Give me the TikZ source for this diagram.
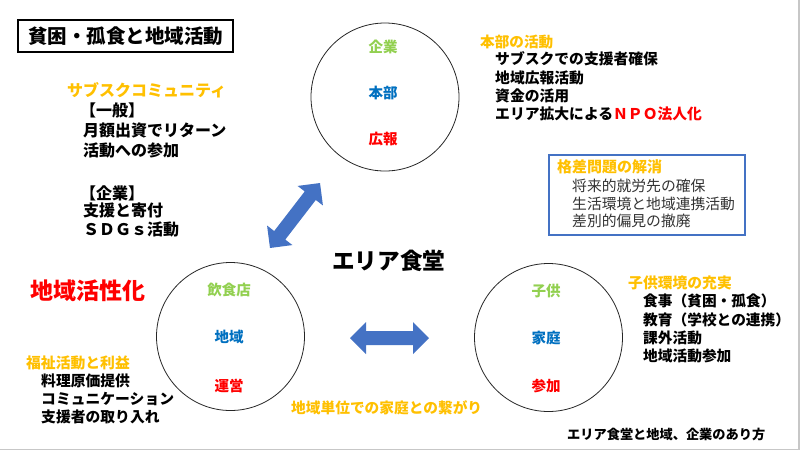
\documentclass[tikz,border=0pt]{standalone}
\usepackage{fontspec}
\newfontfamily\jp{Noto Sans CJK JP}
\definecolor{jorange}{HTML}{FFC000}
\definecolor{jgreen}{HTML}{92D050}
\definecolor{jblue}{HTML}{0070C0}
\definecolor{jred}{HTML}{FF0000}
\definecolor{arrowblue}{HTML}{4472C4}
\definecolor{boxtext}{HTML}{333333}
\newcommand{\fsz}[1]{\fontsize{#1}{#1}\selectfont}
\tikzset{
  t/.style={inner sep=0pt, anchor=base west},
  tc/.style={inner sep=0pt, anchor=base},
  bk/.style={font=\jp\bfseries\fsz{#1}, text=black},
  rg/.style={font=\jp\fsz{#1}, text=boxtext},
  hd/.style={font=\jp\bfseries\fsz{#1}, text=jorange},
  circ/.style={draw=black!85, line width=0.8pt, circle, minimum size=148pt, inner sep=0pt},
  lab/.style={font=\jp\bfseries\fsz{14.5}},
}
\newcommand{\blockarrow}[4]{% mid, angle, length
  \begin{scope}[shift={#1}, rotate=#2]
    \fill[arrowblue] (-#3/2,0) -- (-#3/2+16,16) -- (-#3/2+16,7) -- (#3/2-16,7) -- (#3/2-16,16) -- (#3/2,0)
      -- (#3/2-16,-16) -- (#3/2-16,-7) -- (-#3/2+16,-7) -- (-#3/2+16,-16) -- cycle;
  \end{scope}}
\begin{document}
\begin{tikzpicture}[x=1pt, y=-1pt]
\useasboundingbox (0,0) rectangle (800,451);
\fill[white] (0,0) rectangle (800,451);
\draw[black!22, line width=1.2pt] (799,0) -- (799,449.4) -- (0,449.4);

% title
\node[draw, line width=1.4pt, minimum width=215pt, minimum height=32pt, inner sep=0pt,
      font=\jp\bfseries\fsz{19.5}] (title) at (125.5,36) {貧困・孤食と地域活動};

% circles
\node[circ] (top) at (385,97) {};
\node[circ] (left) at (230.5,336.5) {};
\node[circ] (right) at (548.5,337.5) {};

\node[tc, lab, text=jgreen] (top1) at (383,52) {企業};
\node[tc, lab, text=jblue] (top2) at (383,98.5) {本部};
\node[tc, lab, text=jred] (top3) at (383,144.5) {広報};

\node[tc, lab, text=jgreen] (left1) at (229,295.5) {飲食店};
\node[tc, lab, text=jblue] (left2) at (229,342.5) {地域};
\node[tc, lab, text=jred] (left3) at (229,391.5) {運営};

\node[tc, lab, text=jgreen] (right1) at (546,296.5) {子供};
\node[tc, lab, text=jblue] (right2) at (546,343.5) {家庭};
\node[tc, lab, text=jred] (right3) at (546,391.5) {参加};

% arrows
\blockarrow{(295,215.5)}{52.4}{82}
\blockarrow{(468.5,214)}{-48.5}{80}
\blockarrow{(389.5,338)}{0}{79}

% center
\node[t, bk=22.6] (center) at (332,269.6) {エリア食堂};

% left block
\node[t, hd=16] (subhd) at (67,96.1) {サブスクコミュニティ};
\node[t, bk=16] (sub1) at (80,116.1) {【一般】};
\node[t, bk=16] (sub2) at (83,136.1) {月額出資でリターン};
\node[t, bk=16] (sub3) at (83,156.1) {活動への参加};
\node[t, bk=16] (sub4) at (80,199.1) {【企業】};
\node[t, bk=16] (sub5) at (83,216.1) {支援と寄付};
\node[t, bk=16] (sub6) at (83,235.1) {ＳＤＧｓ活動};

% top right block
\node[t, hd=14.6] (hqhd) at (480,47.5) {本部の活動};
\node[t, bk=14.8] (hq1) at (495,64.5) {サブスクでの支援者確保};
\node[t, bk=14.8] (hq2) at (495,83) {地域広報活動};
\node[t, bk=14.8] (hq3) at (495,101.5) {資金の活用};
\node[t, bk=14.8] (hq4) at (495,119.5) {エリア拡大による\textcolor{jred}{ＮＰＯ法人化}};

% gap box
\node[draw=arrowblue, line width=1.6pt, minimum width=196pt, minimum height=80pt, inner sep=0pt] (gapbox) at (647,195) {};
\node[t, hd=15] (gaphd) at (557,172.7) {格差問題の解消};
\node[t, rg=14.8] (gap1) at (572,191.5) {将来的就労先の確保};
\node[t, rg=14.8] (gap2) at (572,209.5) {生活環境と地域連携活動};
\node[t, rg=14.8] (gap3) at (572,226.5) {差別的偏見の撤廃};

% bottom right block
\node[t, hd=14.8] (kidhd) at (628,288.6) {子供環境の充実};
\node[t, bk=14.7] (kid1) at (643,306.6) {食事（貧困・孤食）};
\node[t, bk=14.7] (kid2) at (643,325.6) {教育（学校との連携）};
\node[t, bk=14.7] (kid3) at (643,343.6) {課外活動};
\node[t, bk=14.7] (kid4) at (643,361.6) {地域活動参加};

% bottom left block
\node[t, font=\jp\bfseries\fsz{23}, text=jred] (act) at (30,299.7) {地域活性化};
\node[t, hd=14.8] (welhd) at (26,368.6) {福祉活動と利益};
\node[t, bk=14.8] (wel1) at (41,386.6) {料理原価提供};
\node[t, bk=14.8] (wel2) at (41,404.6) {コミュニケーション};
\node[t, bk=14.8] (wel3) at (41,422.6) {支援者の取り入れ};

% bottom texts
\node[t, hd=14.7] (link) at (291,413.6) {地域単位での家庭との繋がり};
\node[t, bk=13.2] (foot) at (567,439) {エリア食堂と地域、企業のあり方};
\end{tikzpicture}
\end{document}
